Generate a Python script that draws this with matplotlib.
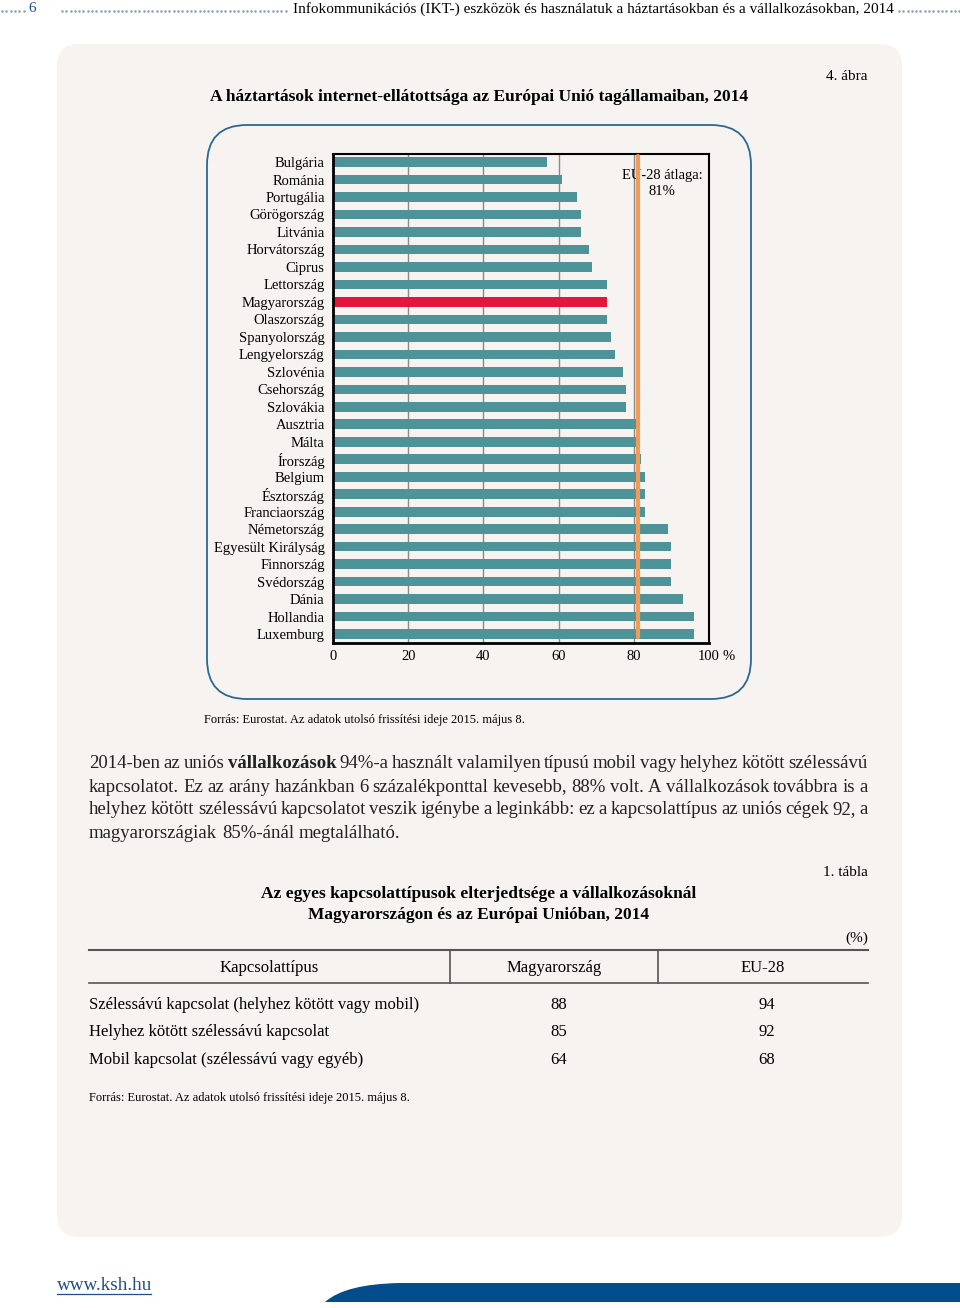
import numpy as np
import matplotlib.pyplot as plt
from matplotlib.patches import FancyBboxPatch, PathPatch
from matplotlib.path import Path

plt.rcParams['font.family'] = ['Liberation Serif', 'DejaVu Serif']

# --- data ---
countries = ["Bulgária", "Románia", "Portugália", "Görögország", "Litvánia",
             "Horvátország", "Ciprus", "Lettország", "Magyarország", "Olaszország",
             "Spanyolország", "Lengyelország", "Szlovénia", "Csehország", "Szlovákia",
             "Ausztria", "Málta", "Írország", "Belgium", "Észtország",
             "Franciaország", "Németország", "Egyesült Királyság", "Finnország",
             "Svédország", "Dánia", "Hollandia", "Luxemburg"]
internet_pct = [57, 61, 65, 66, 66, 68, 69, 73, 73, 73, 74, 75, 77, 78, 78,
                81, 81, 82, 83, 83, 83, 89, 90, 90, 90, 93, 96, 96]
eu_avg = 81
highlight = "Magyarország"
x_ticks = [0, 20, 40, 60, 80, 100]

table_cols = ["Kapcsolattípus", "Magyarország", "EU-28"]
conn_types = ["Szélessávú kapcsolat (helyhez kötött vagy mobil)",
              "Helyhez kötött szélessávú kapcsolat",
              "Mobil kapcsolat (szélessávú vagy egyéb)"]
hu_vals = [88, 85, 64]
eu_vals = [94, 92, 68]

header = "Infokommunikációs (IKT-) eszközök és használatuk a háztartásokban és a vállalkozásokban, 2014"
chart_title = "A háztartások internet-ellátottsága az Európai Unió tagállamaiban, 2014"
source = "Forrás: Eurostat. Az adatok utolsó frissítési ideje 2015. május 8."
table_title = ["Az egyes kapcsolattípusok elterjedtsége a vállalkozásoknál",
               "Magyarországon és az Európai Unióban, 2014"]
paragraph = [
    "2014-ben az uniós **vállalkozások** 94%-a használt valamilyen típusú mobil vagy helyhez kötött szélessávú",
    "kapcsolatot. Ez az arány hazánkban 6 százalékponttal kevesebb, 88% volt. A vállalkozások továbbra is a",
    "helyhez kötött szélessávú kapcsolatot veszik igénybe a leginkább: ez a kapcsolattípus az uniós cégek 92, a",
    "magyarországiak 85%-ánál megtalálható.",
]

TEAL = "#4e9398"
RED = "#e3173e"
ORANGE = "#f29a58"
BLUE = "#1f4e8a"
PANEL = "#f6f3f0"

W, H = 960, 1308
fig = plt.figure(figsize=(W / 100, H / 100), dpi=100)
fig.patch.set_facecolor("white")

bg = fig.add_axes([0, 0, 1, 1])
bg.set_xlim(0, W)
bg.set_ylim(H, 0)
bg.axis("off")


def fig_rect(x0, y0, x1, y1):
    return [x0 / W, 1 - y1 / H, (x1 - x0) / W, (y1 - y0) / H]


# page panel and chart frame
bg.add_patch(FancyBboxPatch((57, 44), 845, 1193, boxstyle="round,pad=0,rounding_size=22",
                            fc=PANEL, ec="none"))
bg.add_patch(FancyBboxPatch((207, 125), 544, 574, boxstyle="round,pad=0,rounding_size=40",
                            fc="none", ec="#2b6895", lw=1.3))

# running header
for x0, x1 in [(2, 26), (62, 287), (899, 960)]:
    xs = np.arange(x0, x1, 4.3)
    bg.scatter(xs, np.full_like(xs, 11), s=3.5, color="#8fa3b8", lw=0)
bg.text(32, 9, "6", color=BLUE, fontsize=11, ha="center", va="center")
bg.text(593, 9, header, fontsize=11, ha="center", va="center")

# chart titles
bg.text(868, 76, "4. ábra", fontsize=11, ha="right", va="center")
bg.text(479, 97, chart_title, fontsize=12.5, weight="bold", ha="center", va="center")

# --- bar chart ---
ax = fig.add_axes(fig_rect(333, 154, 709, 643))
ax.set_facecolor("none")
y = np.arange(len(countries))
colors = [RED if c == highlight else TEAL for c in countries]
ax.barh(y, internet_pct, height=0.55, color=colors, zorder=2)
ax.set_xlim(0, 100)
ax.set_ylim(len(countries) - 0.49, -0.46)
ax.set_yticks(y, countries, fontsize=10.5)
ax.set_xticks(x_ticks, [str(t) for t in x_ticks], fontsize=10.5)
ax.tick_params(length=0)
ax.tick_params(axis="y", pad=6)
ax.tick_params(axis="x", pad=5)
ax.xaxis.grid(True, color="#8a8a8a", lw=1)
ax.set_axisbelow(True)
for sp in ax.spines.values():
    sp.set_color("black")
    sp.set_linewidth(1.5)
ax.spines["left"].set_linewidth(2)
ax.spines["bottom"].set_linewidth(2)

ax.plot([eu_avg, eu_avg], [-0.35, len(countries) - 1 + 0.15], color=ORANGE, lw=3,
        solid_capstyle="round", zorder=4)
ax.text(eu_avg + 6.5, 1.2, f"EU-28 átlaga:\n{eu_avg}%", ha="center", va="center",
        fontsize=10.5, linespacing=1.3, zorder=3)
bg.text(729, 656, "%", fontsize=10.5, ha="center", va="center")

bg.text(204, 720, source, fontsize=9, va="center")

# --- justified paragraph ---
renderer = fig.canvas.get_renderer()
PX0, PX1 = 89, 868
PFS = 13.5
for i, line in enumerate(paragraph):
    ypos = 764 + i * 23
    items = []
    for w in line.split(" "):
        bold = w.startswith("**")
        t = bg.text(0, ypos, w.strip("*"), fontsize=PFS, va="center", ha="left",
                    weight="bold" if bold else "normal", color="#222222")
        items.append(t)
    widths = [t.get_window_extent(renderer).width for t in items]
    if i == len(paragraph) - 1:
        gap = renderer.points_to_pixels(PFS) * 0.25
    else:
        gap = (PX1 - PX0 - sum(widths)) / (len(items) - 1)
    x = PX0
    for t, wd in zip(items, widths):
        t.set_x(x)
        x += wd + gap

# --- table ---
bg.text(868, 873, "1. tábla", fontsize=11, ha="right", va="center")
bg.text(479, 894, table_title[0], fontsize=12.5, weight="bold", ha="center", va="center")
bg.text(479, 915, table_title[1], fontsize=12.5, weight="bold", ha="center", va="center")
bg.text(868, 938, "(%)", fontsize=11, ha="right", va="center")
bg.plot([89, 868], [950, 950], color="#555555", lw=1.5)
bg.plot([89, 868], [983, 983], color="#555555", lw=1.2)
for xv in (450, 658):
    bg.plot([xv, xv], [950, 983], color="#555555", lw=1.2)
for xc, col in zip((269, 554, 763), table_cols):
    bg.text(xc, 968, col, fontsize=12, ha="center", va="center")
for j, (lab, hv, ev) in enumerate(zip(conn_types, hu_vals, eu_vals)):
    yy = 1005 + j * 27.5
    bg.text(89, yy, lab, fontsize=12, ha="left", va="center")
    bg.text(559, yy, str(hv), fontsize=12, ha="center", va="center")
    bg.text(767, yy, str(ev), fontsize=12, ha="center", va="center")
bg.text(89, 1098, source, fontsize=9, va="center")

# --- footer ---
bg.text(57, 1285, "www.ksh.hu", color=BLUE, fontsize=13.8, va="center")
bg.plot([57, 151], [1294, 1294], color=BLUE, lw=0.9)
band = Path([(325, 1302), (345, 1284), (400, 1283), (960, 1283), (960, 1302), (325, 1302)],
            [Path.MOVETO, Path.CURVE3, Path.CURVE3, Path.LINETO, Path.LINETO, Path.CLOSEPOLY])
bg.add_patch(PathPatch(band, fc="#034d8c", ec="none"))

fig.savefig("out.png", dpi=100)
